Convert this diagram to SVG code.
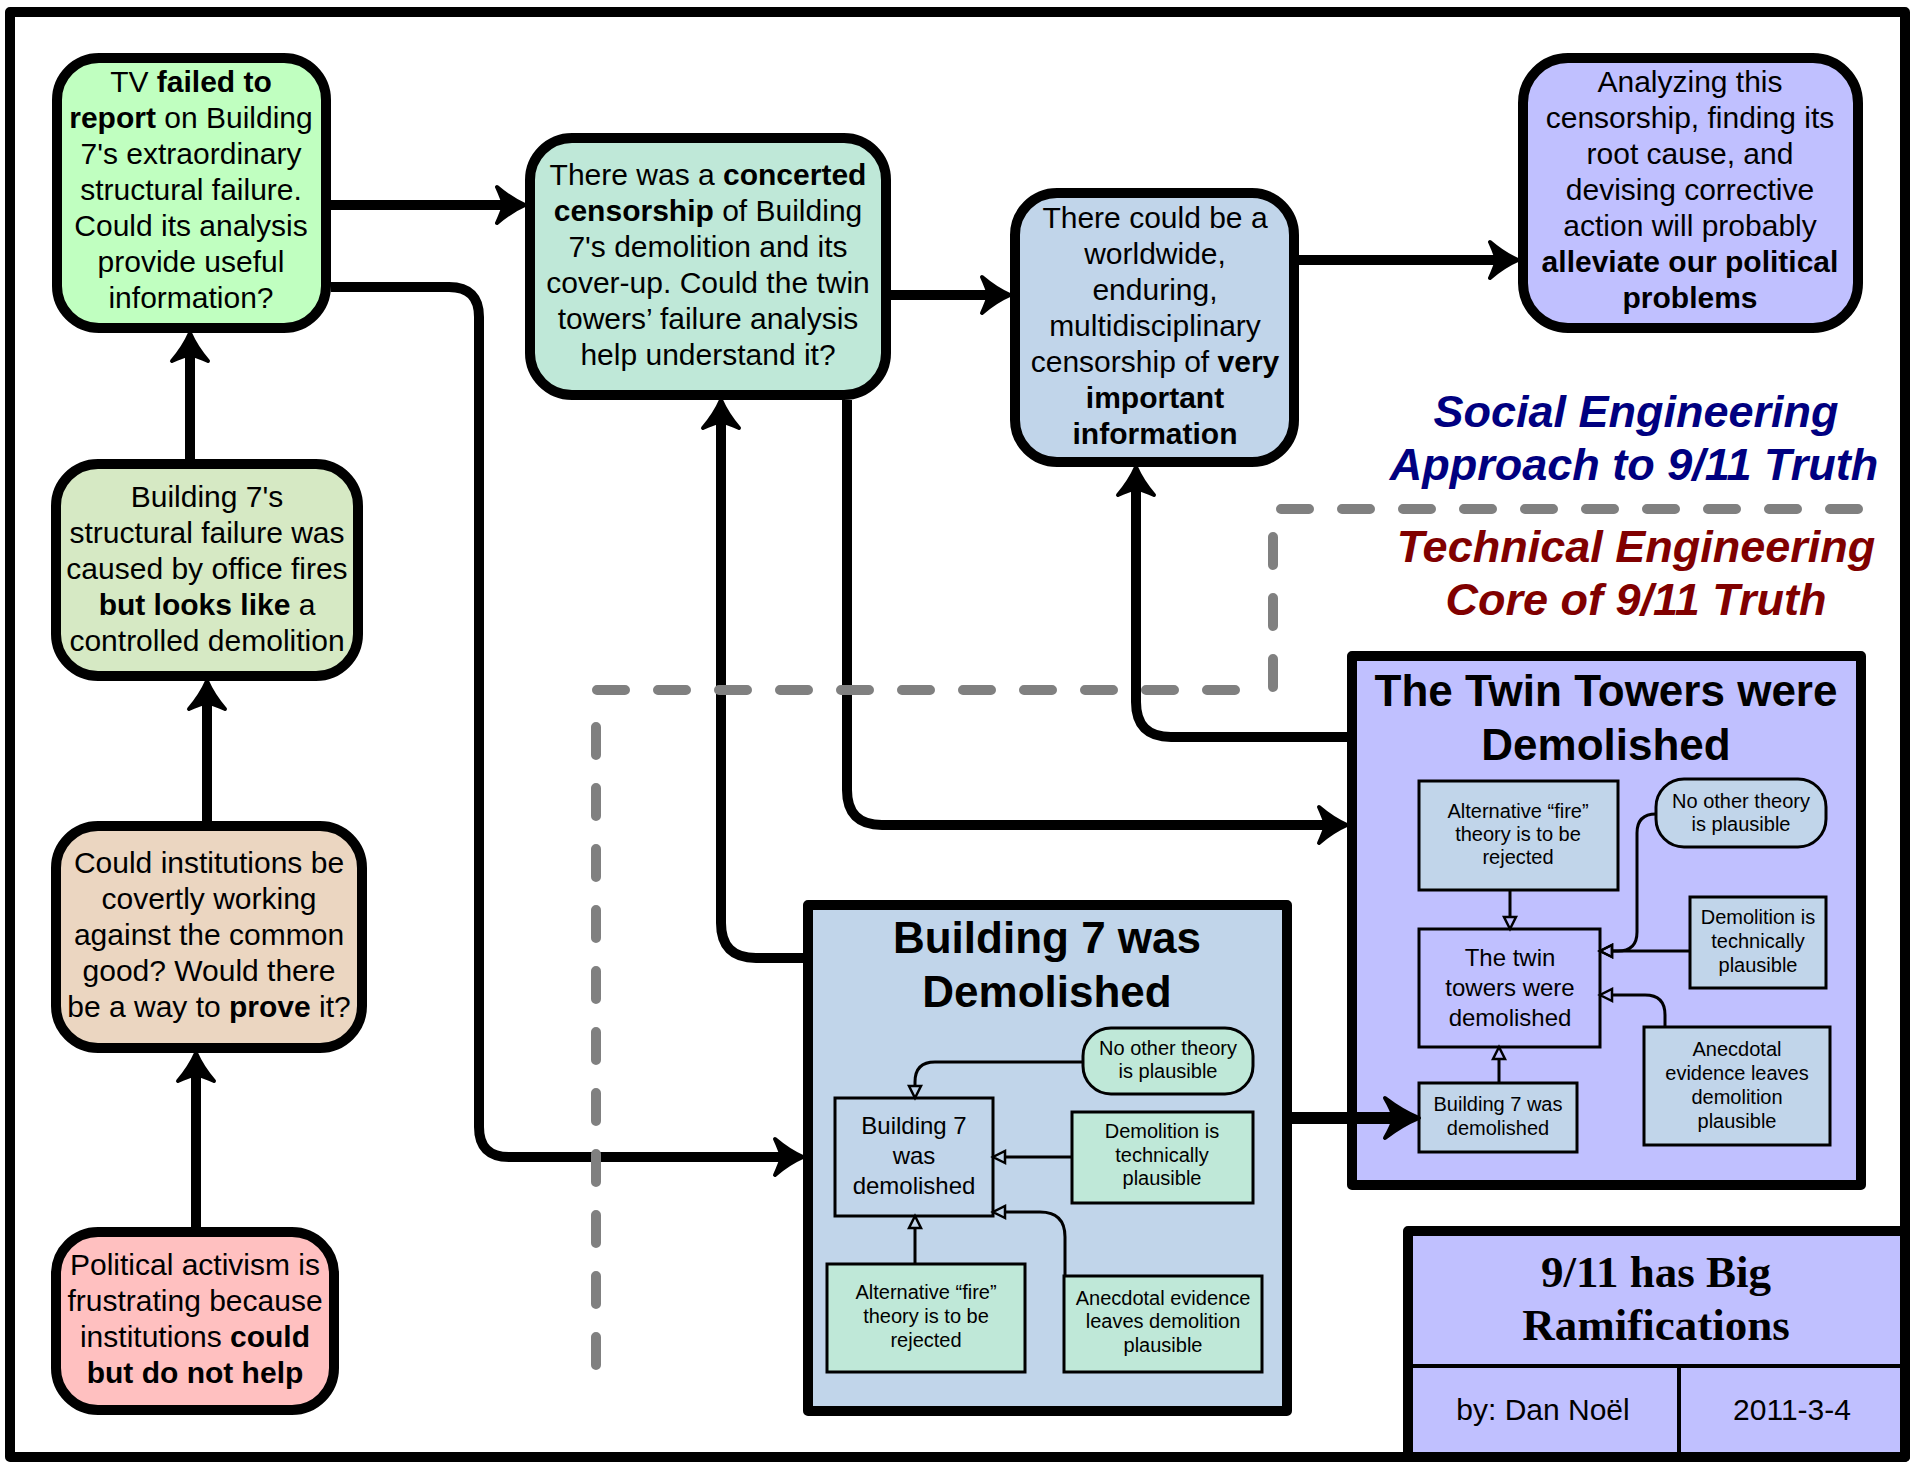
<svg xmlns="http://www.w3.org/2000/svg" width="1923" height="1469" viewBox="0 0 1923 1469">
<defs>
<style>
text{font-family:"Liberation Sans",Arial,sans-serif;text-anchor:middle;fill:#000}
.m{font-size:30px}
.s{font-size:20px}
.md{font-size:24px}
.b{font-weight:bold}
.box{stroke:#000;stroke-width:10}
.ibox{stroke:#000;stroke-width:3}
.con{fill:none;stroke:#000;stroke-width:10}
.icon{fill:none;stroke:#000;stroke-width:3}
.dash{fill:none;stroke:#808080;stroke-width:10;stroke-linecap:round;stroke-dasharray:28 33}
.h{font-size:44px;font-weight:bold}
.side{font-size:45px;font-weight:bold;font-style:italic}
.serif{font-family:"Liberation Serif","Times New Roman",serif;font-weight:bold;font-size:45px}
.green{fill:#C0FFC0}.teal{fill:#BFE8D8}.blue{fill:#C1D5EA}.purple{fill:#C0C0FF}.olive{fill:#D6E9C4}.tan{fill:#EBD6C1}.pink{fill:#FFC0C0}
</style>
<marker id="arr" markerUnits="userSpaceOnUse" markerWidth="60" markerHeight="60" viewBox="-30 -30 60 60" refX="0" refY="0" orient="auto" overflow="visible">
<path d="M16,0 Q2,-6 -12,-18 Q-7,-7 -5,0 Q-7,7 -12,18 Q2,6 16,0 Z" fill="#000" stroke="#000" stroke-width="4" stroke-linejoin="round"/>
</marker>
<marker id="arrBig" markerUnits="userSpaceOnUse" markerWidth="70" markerHeight="70" viewBox="-35 -35 70 70" refX="0" refY="0" orient="auto" overflow="visible">
<path d="M19,0 Q2,-7 -15,-20 Q-8,-8 -6,0 Q-8,8 -15,20 Q2,7 19,0 Z" fill="#000" stroke="#000" stroke-width="4" stroke-linejoin="round"/>
</marker>
<marker id="tri" markerUnits="userSpaceOnUse" markerWidth="24" markerHeight="20" viewBox="-2 -10 24 20" refX="0" refY="0" orient="auto" overflow="visible">
<path d="M0,-6 L12,0 L0,6 Z" fill="none" stroke="#000" stroke-width="2.5"/>
</marker>
</defs>
<rect x="0" y="0" width="1923" height="1469" fill="#fff"/>
<rect id="frame" x="10" y="12" width="1895" height="1445" fill="#fff" stroke="#000" stroke-width="10" stroke-linejoin="round"/>

<g id="tv">
<rect class="box green" x="57" y="58" width="269" height="270" rx="42"/>
<text class="m"><tspan x="191" y="92">TV <tspan class="b">failed to</tspan></tspan><tspan x="191" y="128"><tspan class="b">report</tspan> on Building</tspan><tspan x="191" y="164">7's extraordinary</tspan><tspan x="191" y="200">structural failure.</tspan><tspan x="191" y="236">Could its analysis</tspan><tspan x="191" y="272">provide useful</tspan><tspan x="191" y="308">information?</tspan></text>
</g>

<g id="censorship">
<rect class="box teal" x="530" y="138" width="356" height="257" rx="42"/>
<text class="m"><tspan x="708" y="185">There was a <tspan class="b">concerted</tspan></tspan><tspan x="708" y="221"><tspan class="b">censorship</tspan> of Building</tspan><tspan x="708" y="257">7's demolition and its</tspan><tspan x="708" y="293">cover-up. Could the twin</tspan><tspan x="708" y="329">towers’ failure analysis</tspan><tspan x="708" y="365">help understand it?</tspan></text>
</g>

<g id="worldwide">
<rect class="box blue" x="1015" y="193" width="279" height="269" rx="42"/>
<text class="m"><tspan x="1155" y="228">There could be a</tspan><tspan x="1155" y="264">worldwide,</tspan><tspan x="1155" y="300">enduring,</tspan><tspan x="1155" y="336">multidisciplinary</tspan><tspan x="1155" y="372">censorship of <tspan class="b">very</tspan></tspan><tspan x="1155" y="408" class="b">important</tspan><tspan x="1155" y="444" class="b">information</tspan></text>
</g>

<g id="analyzing">
<rect class="box purple" x="1523" y="58" width="335" height="270" rx="45"/>
<text class="m"><tspan x="1690" y="92">Analyzing this</tspan><tspan x="1690" y="128">censorship, finding its</tspan><tspan x="1690" y="164">root cause, and</tspan><tspan x="1690" y="200">devising corrective</tspan><tspan x="1690" y="236">action will probably</tspan><tspan x="1690" y="272" class="b">alleviate our political</tspan><tspan x="1690" y="308" class="b">problems</tspan></text>
</g>

<g id="looks-like">
<rect class="box olive" x="56" y="464" width="302" height="212" rx="42"/>
<text class="m"><tspan x="207" y="507">Building 7's</tspan><tspan x="207" y="543">structural failure was</tspan><tspan x="207" y="579">caused by office fires</tspan><tspan x="207" y="615"><tspan class="b">but looks like</tspan> a</tspan><tspan x="207" y="651">controlled demolition</tspan></text>
</g>

<g id="institutions">
<rect class="box tan" x="56" y="826" width="306" height="222" rx="42"/>
<text class="m"><tspan x="209" y="873">Could institutions be</tspan><tspan x="209" y="909">covertly working</tspan><tspan x="209" y="945">against the common</tspan><tspan x="209" y="981">good? Would there</tspan><tspan x="209" y="1017">be a way to <tspan class="b">prove</tspan> it?</tspan></text>
</g>

<g id="activism">
<rect class="box pink" x="56" y="1232" width="278" height="178" rx="42"/>
<text class="m"><tspan x="195" y="1275">Political activism is</tspan><tspan x="195" y="1311">frustrating because</tspan><tspan x="195" y="1347">institutions <tspan class="b">could</tspan></tspan><tspan x="195" y="1383" class="b">but do not help</tspan></text>
</g>

<g id="b7-container">
<rect class="box blue" x="808" y="905" width="479" height="506" stroke-linejoin="round"/>
<text class="h"><tspan x="1047" y="953">Building 7 was</tspan><tspan x="1047" y="1007">Demolished</tspan></text>
<g id="b7-main">
<rect class="ibox blue" x="835" y="1098" width="158" height="118"/>
<text class="md"><tspan x="914" y="1134">Building 7</tspan><tspan x="914" y="1164">was</tspan><tspan x="914" y="1194">demolished</tspan></text>
</g>
<g id="b7-noother">
<rect class="ibox teal" x="1083" y="1028" width="170" height="66" rx="28"/>
<text class="s"><tspan x="1168" y="1055">No other theory</tspan><tspan x="1168" y="1078">is plausible</tspan></text>
</g>
<g id="b7-technical">
<rect class="ibox teal" x="1072" y="1112" width="181" height="91"/>
<text class="s"><tspan x="1162" y="1138">Demolition is</tspan><tspan x="1162" y="1162">technically</tspan><tspan x="1162" y="1185">plausible</tspan></text>
</g>
<g id="b7-fire">
<rect class="ibox teal" x="827" y="1264" width="198" height="108"/>
<text class="s"><tspan x="926" y="1299">Alternative “fire”</tspan><tspan x="926" y="1323">theory is to be</tspan><tspan x="926" y="1347">rejected</tspan></text>
</g>
<g id="b7-anecdotal">
<rect class="ibox teal" x="1064" y="1276" width="198" height="96"/>
<text class="s"><tspan x="1163" y="1305">Anecdotal evidence</tspan><tspan x="1163" y="1328">leaves demolition</tspan><tspan x="1163" y="1352">plausible</tspan></text>
</g>
</g>

<g id="tt-container">
<rect class="box purple" x="1352" y="656" width="509" height="529" stroke-linejoin="round"/>
<text class="h"><tspan x="1606" y="706">The Twin Towers were</tspan><tspan x="1606" y="760">Demolished</tspan></text>
<g id="tt-fire">
<rect class="ibox blue" x="1419" y="781" width="199" height="109"/>
<text class="s"><tspan x="1518" y="818">Alternative “fire”</tspan><tspan x="1518" y="841">theory is to be</tspan><tspan x="1518" y="864">rejected</tspan></text>
</g>
<g id="tt-noother">
<rect class="ibox blue" x="1656" y="779" width="170" height="68" rx="28"/>
<text class="s"><tspan x="1741" y="808">No other theory</tspan><tspan x="1741" y="831">is plausible</tspan></text>
</g>
<g id="tt-main">
<rect class="ibox purple" x="1419" y="929" width="181" height="118"/>
<text class="md"><tspan x="1510" y="966">The twin</tspan><tspan x="1510" y="996">towers were</tspan><tspan x="1510" y="1026">demolished</tspan></text>
</g>
<g id="tt-technical">
<rect class="ibox blue" x="1690" y="897" width="136" height="91"/>
<text class="s"><tspan x="1758" y="924">Demolition is</tspan><tspan x="1758" y="948">technically</tspan><tspan x="1758" y="972">plausible</tspan></text>
</g>
<g id="tt-anecdotal">
<rect class="ibox blue" x="1644" y="1027" width="186" height="118"/>
<text class="s"><tspan x="1737" y="1056">Anecdotal</tspan><tspan x="1737" y="1080">evidence leaves</tspan><tspan x="1737" y="1104">demolition</tspan><tspan x="1737" y="1128">plausible</tspan></text>
</g>
<g id="tt-b7">
<rect class="ibox blue" x="1419" y="1083" width="158" height="69"/>
<text class="s"><tspan x="1498" y="1111">Building 7 was</tspan><tspan x="1498" y="1135">demolished</tspan></text>
</g>
</g>

<g id="labels">
<text class="side" style="fill:#000080"><tspan x="1636" y="427">Social Engineering</tspan><tspan x="1634" y="480">Approach to 9/11 Truth</tspan></text>
<text class="side" style="fill:#800000"><tspan x="1636" y="562">Technical Engineering</tspan><tspan x="1636" y="615">Core of 9/11 Truth</tspan></text>
</g>

<g id="title-block">
<rect x="1408" y="1231" width="497" height="226" fill="#C0C0FF" stroke="#000" stroke-width="10" stroke-linejoin="round"/>
<line x1="1408" y1="1366" x2="1905" y2="1366" stroke="#000" stroke-width="4"/>
<line x1="1679" y1="1366" x2="1679" y2="1457" stroke="#000" stroke-width="4"/>
<text class="serif"><tspan x="1656" y="1287">9/11 has Big</tspan><tspan x="1656" y="1340">Ramifications</tspan></text>
<text class="m" x="1543" y="1420">by: Dan Noël</text>
<text class="m" x="1792" y="1420">2011-3-4</text>
</g>

<g id="connectors">
<path class="con" marker-end="url(#arr)" d="M331,205 H509"/>
<path class="con" marker-end="url(#arr)" d="M331,287 H449 Q479,287 479,317 V1127 Q479,1157 509,1157 H787"/>
<path class="con" marker-end="url(#arr)" d="M891,295 H994"/>
<path class="con" marker-end="url(#arr)" d="M1299,260 H1502"/>
<path class="con" marker-end="url(#arr)" d="M190,459 V349"/>
<path class="con" marker-end="url(#arr)" d="M207,821 V697"/>
<path class="con" marker-end="url(#arr)" d="M196,1227 V1069"/>
<path class="con" marker-end="url(#arr)" d="M803,958 H756 Q721,958 721,923 V416"/>
<path class="con" marker-end="url(#arr)" d="M847,400 V790 Q847,825 882,825 H1331"/>
<path class="con" marker-end="url(#arr)" d="M1347,737 H1171 Q1136,737 1136,702 V483"/>
<path class="con" style="stroke-width:12" marker-end="url(#arrBig)" d="M1292,1118 H1400"/>
<path class="icon" marker-end="url(#tri)" d="M1083,1062 H935 Q915,1062 915,1082 V1086"/>
<path class="icon" marker-end="url(#tri)" d="M1072,1157 H1005"/>
<path class="icon" marker-end="url(#tri)" d="M1065,1276 V1237 Q1065,1212 1040,1212 H1005"/>
<path class="icon" marker-end="url(#tri)" d="M915,1264 V1228"/>
<path class="icon" marker-end="url(#tri)" d="M1510,890 V917"/>
<path class="icon" marker-end="url(#tri)" d="M1656,814 Q1637,814 1637,833 V932 Q1637,951 1618,951 H1612"/>
<path class="icon" marker-end="url(#tri)" d="M1690,951 H1612"/>
<path class="icon" marker-end="url(#tri)" d="M1665,1027 V1015 Q1665,995 1645,995 H1612"/>
<path class="icon" marker-end="url(#tri)" d="M1499,1083 V1059"/>
</g>

<g id="divider">
<path class="dash" d="M596,1365 V715"/>
<path class="dash" d="M597,690 H1245"/>
<path class="dash" d="M1273,687 V509"/>
<path class="dash" d="M1281,509 H1859"/>
</g>
</svg>
